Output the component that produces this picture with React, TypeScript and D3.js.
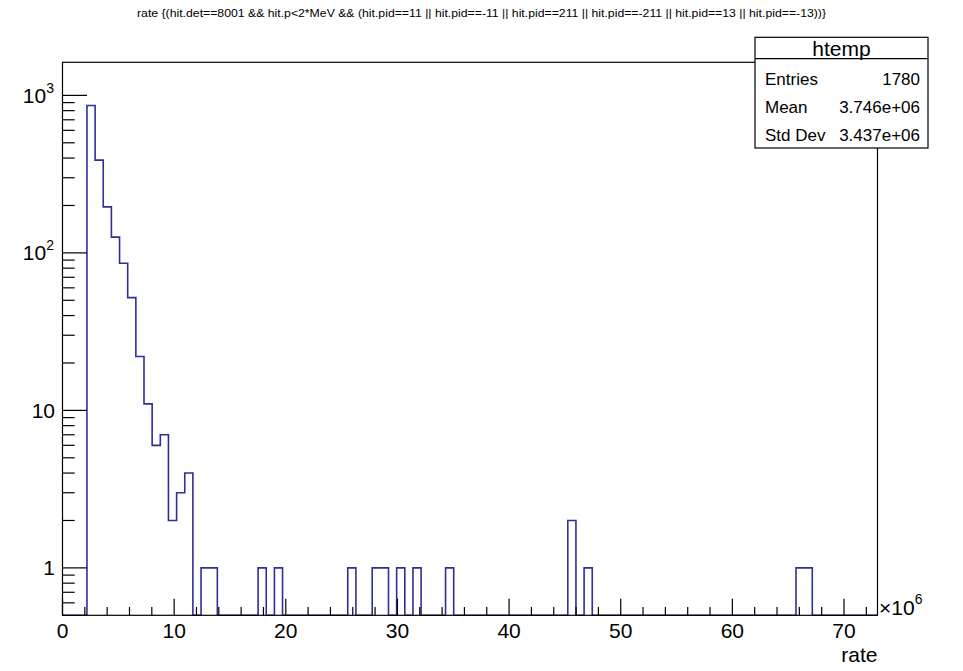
import React from "react";
import * as d3 from "d3";

const titleText =
  "rate {(hit.det==8001 && hit.p<2*MeV && (hit.pid==11 || hit.pid==-11 || hit.pid==211 || hit.pid==-211 || hit.pid==13 || hit.pid==-13))}";
const histName = "htemp";
const xAxisTitle = "rate";
const nBins = 100;
const xLow = 0;
const xHigh = 73; // ×10^6
const yMin = 0.5;
const yMax = 1622;
// non-empty bin indices and their counts
const filledBins = [3, 4, 5, 6, 7, 8, 9, 10, 11, 12, 13, 14, 15, 17, 18, 24, 26, 35, 38, 39, 41, 43, 47, 62, 64, 90, 91];
const binCounts = [862, 388, 196, 126, 86, 52, 22, 11, 6, 7, 2, 3, 4, 1, 1, 1, 1, 1, 1, 1, 1, 1, 1, 2, 1, 1, 1];
const xMajorTicks = [0, 10, 20, 30, 40, 50, 60, 70];
const yDecades = [1, 10, 100, 1000];
const yDecadeLabels = [["1", ""], ["10", ""], ["10", "2"], ["10", "3"]];
const statLabels = ["Entries", "Mean", "Std Dev"];
const statValues = ["1780", "3.746e+06", "3.437e+06"];

const W = 963;
const H = 671;
const FONT = "'Liberation Sans', Arial, Helvetica, sans-serif";

export default function App() {
  const left = 62.5, right = 877.5, top = 62.3, bottom = 615.3;
  const x = d3.scaleLinear().domain([xLow, xHigh]).range([left, right]);
  const y = d3.scaleLog().domain([yMin, yMax]).range([bottom, top]).clamp(true);
  const bw = (xHigh - xLow) / nBins;

  const counts = new Array(nBins).fill(0);
  filledBins.forEach((b, i) => (counts[b] = binCounts[i]));
  const pts: [number, number][] = counts.map((c, i) => [xLow + i * bw, c > 0 ? c : yMin]);
  pts.push([xHigh, counts[nBins - 1] > 0 ? counts[nBins - 1] : yMin]);
  const line = d3
    .line<[number, number]>()
    .x((d) => x(d[0]))
    .y((d) => y(d[1]))
    .curve(d3.curveStepAfter);
  const pathD = line(pts) || "";

  const yMajLen = 24.5, yMinLen = 12.2;
  const xMajLen = 16.5, xMinLen = 8.3;

  const yMinor: number[] = [];
  for (let e = -1; e <= 3; e++) {
    for (let k = 2; k <= 9; k++) {
      const v = k * Math.pow(10, e);
      if (v > yMin && v < yMax) yMinor.push(v);
    }
  }
  const xMinor: number[] = [];
  for (let v = 0; v <= xHigh; v += 2) if (v % 10 !== 0) xMinor.push(v);

  const boxL = 755, boxR = 928, boxT = 37.3, boxB = 148, sep = 58.7;
  const rowY = [85, 113, 141];

  return (
    <svg width={W} height={H} style={{ position: "absolute", left: 0, top: 0, background: "#fff" }} fontFamily={FONT}>
      <rect x={0} y={0} width={W} height={H} fill="#fff" />
      <text x={481.5} y={17} fontSize={11.5} textAnchor="middle" fill="#000" textLength={689} lengthAdjust="spacingAndGlyphs">
        {titleText}
      </text>
      {/* histogram */}
      <path d={pathD} fill="none" stroke="#2f2f9a" strokeWidth={1.6} />
      {/* frame */}
      <rect x={left} y={top} width={right - left} height={bottom - top} fill="none" stroke="#000" strokeWidth={1.2} />
      {/* y ticks */}
      {yDecades.map((v) => (
        <line key={"ym" + v} x1={left} x2={left + yMajLen} y1={y(v)} y2={y(v)} stroke="#000" strokeWidth={1.2} />
      ))}
      {yMinor.map((v) => (
        <line key={"yn" + v} x1={left} x2={left + yMinLen} y1={y(v)} y2={y(v)} stroke="#000" strokeWidth={1.2} />
      ))}
      {yDecades.map((v, i) => (
        <text key={"yl" + v} x={yDecadeLabels[i][1] ? 54 : 55} y={y(v) + 7.5} fontSize={21} textAnchor="end" fill="#000">
          {yDecadeLabels[i][0]}
          {yDecadeLabels[i][1] ? (
            <tspan fontSize={14} dy={-10}>
              {yDecadeLabels[i][1]}
            </tspan>
          ) : null}
        </text>
      ))}
      {/* x ticks */}
      {xMajorTicks.map((v) => (
        <line key={"xm" + v} x1={x(v)} x2={x(v)} y1={bottom} y2={bottom - xMajLen} stroke="#000" strokeWidth={1.2} />
      ))}
      {xMinor.map((v) => (
        <line key={"xn" + v} x1={x(v)} x2={x(v)} y1={bottom} y2={bottom - xMinLen} stroke="#000" strokeWidth={1.2} />
      ))}
      {xMajorTicks.map((v) => (
        <text key={"xl" + v} x={x(v)} y={638} fontSize={21} textAnchor="middle" fill="#000">
          {v}
        </text>
      ))}
      <text x={879} y={615} fontSize={21} fill="#000">
        ×10
        <tspan fontSize={14} dy={-11}>
          6
        </tspan>
      </text>
      <text x={right} y={662} fontSize={21} textAnchor="end" fill="#000">
        {xAxisTitle}
      </text>
      {/* stats box */}
      <rect x={boxL} y={boxT} width={boxR - boxL} height={boxB - boxT} fill="#fff" stroke="#000" strokeWidth={1.2} />
      <line x1={boxL} x2={boxR} y1={sep} y2={sep} stroke="#000" strokeWidth={1.2} />
      <text x={(boxL + boxR) / 2} y={55.5} fontSize={21} textAnchor="middle" fill="#000">
        {histName}
      </text>
      {statLabels.map((s, i) => (
        <g key={s}>
          <text x={765} y={rowY[i]} fontSize={17} fill="#000">
            {s}
          </text>
          <text x={920} y={rowY[i]} fontSize={17} textAnchor="end" fill="#000">
            {statValues[i]}
          </text>
        </g>
      ))}
    </svg>
  );
}
